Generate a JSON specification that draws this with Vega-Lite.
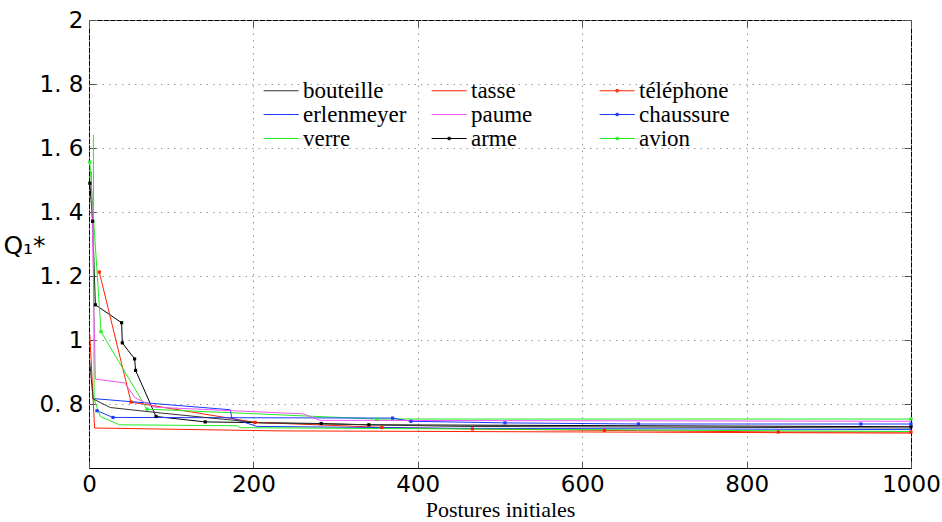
{
  "$schema": "https://vega.github.io/schema/vega-lite/v6.json",
  "width": 822,
  "height": 448,
  "autosize": "none",
  "padding": {"left": 89, "top": 20, "right": 31, "bottom": 54},
  "background": "white",
  "config": {
    "view": {"stroke": "black", "strokeWidth": 1},
    "axis": {
      "labelFont": "DejaVu Sans",
      "labelFontSize": 23,
      "labelColor": "black",
      "labelFlush": false,
      "domain": false,
      "tickColor": "#555555",
      "tickSize": -7,
      "tickWidth": 1,
      "gridColor": "#999999",
      "gridDash": [1.5, 5],
      "gridWidth": 1,
      "gridOpacity": 1
    }
  },
  "data": {
    "values": [
      {"s": "arme", "x": 1, "y": 1.49},
      {"s": "arme", "x": 4.4, "y": 1.371},
      {"s": "arme", "x": 7.7, "y": 1.11},
      {"s": "arme", "x": 39.7, "y": 1.054},
      {"s": "arme", "x": 40.5, "y": 0.991},
      {"s": "arme", "x": 55.5, "y": 0.941},
      {"s": "arme", "x": 56.7, "y": 0.905},
      {"s": "arme", "x": 81.5, "y": 0.761},
      {"s": "arme", "x": 141.4, "y": 0.744},
      {"s": "arme", "x": 282.5, "y": 0.739},
      {"s": "arme", "x": 340.5, "y": 0.735},
      {"s": "arme", "x": 1000, "y": 0.729},
      {"s": "téléphone", "x": 12.5, "y": 1.2125},
      {"s": "téléphone", "x": 51.1, "y": 0.806},
      {"s": "téléphone", "x": 202.2, "y": 0.7425},
      {"s": "téléphone", "x": 356.3, "y": 0.727},
      {"s": "téléphone", "x": 466.5, "y": 0.722},
      {"s": "téléphone", "x": 627, "y": 0.7175},
      {"s": "téléphone", "x": 838.6, "y": 0.7125},
      {"s": "téléphone", "x": 1000, "y": 0.7125},
      {"s": "avion", "x": 1, "y": 1.556},
      {"s": "avion", "x": 14.6, "y": 1.026},
      {"s": "avion", "x": 70.5, "y": 0.784},
      {"s": "avion", "x": 350, "y": 0.753},
      {"s": "avion", "x": 1000, "y": 0.753},
      {"s": "chaussure", "x": 9.7, "y": 0.779},
      {"s": "chaussure", "x": 29.2, "y": 0.758},
      {"s": "chaussure", "x": 369.3, "y": 0.756},
      {"s": "chaussure", "x": 391.6, "y": 0.746},
      {"s": "chaussure", "x": 506, "y": 0.741},
      {"s": "chaussure", "x": 668.4, "y": 0.7375},
      {"s": "chaussure", "x": 939, "y": 0.7375},
      {"s": "chaussure", "x": 1000, "y": 0.7375},
      {"s": "erlenmeyer", "x": 4.9, "y": 0.817},
      {"s": "erlenmeyer", "x": 171.8, "y": 0.782},
      {"s": "erlenmeyer", "x": 173.9, "y": 0.756},
      {"s": "erlenmeyer", "x": 204, "y": 0.730},
      {"s": "erlenmeyer", "x": 450, "y": 0.724},
      {"s": "erlenmeyer", "x": 1000, "y": 0.72},
      {"s": "verre", "x": 5.3, "y": 1.642},
      {"s": "verre", "x": 6.2, "y": 0.815},
      {"s": "verre", "x": 13.7, "y": 0.761},
      {"s": "verre", "x": 37.2, "y": 0.735},
      {"s": "verre", "x": 180, "y": 0.732},
      {"s": "verre", "x": 184, "y": 0.726},
      {"s": "verre", "x": 1000, "y": 0.714},
      {"s": "tasse", "x": 1, "y": 1.016},
      {"s": "tasse", "x": 6.8, "y": 0.725},
      {"s": "tasse", "x": 230, "y": 0.716},
      {"s": "tasse", "x": 450, "y": 0.714},
      {"s": "tasse", "x": 1000, "y": 0.709},
      {"s": "bouteille", "x": 1, "y": 0.93},
      {"s": "bouteille", "x": 4.9, "y": 0.816},
      {"s": "bouteille", "x": 25.9, "y": 0.789},
      {"s": "bouteille", "x": 86.7, "y": 0.772},
      {"s": "bouteille", "x": 208, "y": 0.741},
      {"s": "bouteille", "x": 451, "y": 0.73},
      {"s": "bouteille", "x": 1000, "y": 0.725},
      {"s": "paume", "x": 2.8, "y": 1.527},
      {"s": "paume", "x": 7.7, "y": 0.878},
      {"s": "paume", "x": 43.3, "y": 0.866},
      {"s": "paume", "x": 56.3, "y": 0.819},
      {"s": "paume", "x": 80, "y": 0.79},
      {"s": "paume", "x": 261, "y": 0.769},
      {"s": "paume", "x": 281, "y": 0.749},
      {"s": "paume", "x": 1000, "y": 0.746}
    ]
  },
  "resolve": {
    "scale": {"color": "independent", "shape": "independent"},
    "axis": {"x": "independent", "y": "independent"},
    "legend": {"color": "independent", "shape": "independent"}
  },
  "layer": [
    {
      "mark": {"type": "line", "strokeWidth": 1, "clip": true},
      "encoding": {
        "x": {
          "field": "x", "type": "quantitative",
          "scale": {"domain": [0, 1000], "nice": false, "zero": false},
          "axis": {
            "orient": "bottom",
            "values": [0, 200, 400, 600, 800, 1000],
            "format": "d",
            "grid": true,
            "labelPadding": 12,
            "title": "Postures initiales",
            "titleFont": "Liberation Serif",
            "titleFontSize": 22,
            "titleFontWeight": "normal",
            "titleColor": "black",
            "titlePadding": 3
          }
        },
        "y": {
          "field": "y", "type": "quantitative",
          "scale": {"domain": [0.6, 2], "nice": false, "zero": false},
          "axis": {
            "orient": "left",
            "values": [0.8, 1, 1.2, 1.4, 1.6, 1.8, 2],
            "grid": true,
            "labelPadding": 13,
            "labelExpr": "datum.value % 1 == 0 ? format(datum.value, 'd') : replace(format(datum.value, '.1f'), '.', '. ')",
            "title": "Q₁*",
            "titleFont": "DejaVu Sans",
            "titleFontSize": 25,
            "titleFontWeight": "normal",
            "titleColor": "black",
            "titleAngle": 0,
            "titleAlign": "center",
            "titleBaseline": "middle",
            "titleX": -65,
            "titleY": 225
          }
        },
        "detail": {"field": "s"},
        "color": {
          "field": "s", "type": "nominal",
          "scale": {
            "domain": ["bouteille", "erlenmeyer", "verre", "tasse", "paume", "arme", "téléphone", "chaussure", "avion"],
            "range": ["#333333", "#1a3aff", "#22ee22", "#ff2000", "#ee55ee", "#000000", "#ff2000", "#1a3aff", "#22ee22"]
          },
          "legend": null
        }
      }
    },
    {
      "transform": [{"filter": {"field": "s", "oneOf": ["arme", "téléphone", "chaussure", "avion"]}}],
      "mark": {"type": "point", "shape": "square", "filled": true, "size": 10, "opacity": 1, "clip": false},
      "encoding": {
        "x": {"field": "x", "type": "quantitative", "axis": null},
        "y": {"field": "y", "type": "quantitative", "axis": null},
        "color": {
          "field": "s", "type": "nominal",
          "scale": {
            "domain": ["bouteille", "erlenmeyer", "verre", "tasse", "paume", "arme", "téléphone", "chaussure", "avion"],
            "range": ["#333333", "#1a3aff", "#22ee22", "#ff2000", "#ee55ee", "#000000", "#ff2000", "#1a3aff", "#22ee22"]
          },
          "legend": null
        }
      }
    },
    {
      "mark": {"type": "point", "filled": false, "opacity": 0, "strokeWidth": 1},
      "encoding": {
        "x": {
          "field": "x", "type": "quantitative",
          "axis": {"orient": "top", "values": [0, 200, 400, 600, 800, 1000], "labels": false, "grid": false, "title": null}
        },
        "y": {
          "field": "y", "type": "quantitative",
          "axis": {"orient": "right", "values": [0.8, 1, 1.2, 1.4, 1.6, 1.8, 2], "labels": false, "grid": false, "title": null}
        },
        "color": {
          "field": "s", "type": "nominal",
          "scale": {
            "domain": ["bouteille", "erlenmeyer", "verre", "tasse", "paume", "arme", "téléphone", "chaussure", "avion"],
            "range": ["#333333", "#1a3aff", "#22ee22", "#ff2000", "#ee55ee", "#000000", "#ff2000", "#1a3aff", "#22ee22"]
          },
          "legend": {
            "orient": "none", "legendX": 169, "legendY": 59, "columns": 3, "title": null,
            "labelFont": "Liberation Serif", "labelFontSize": 23, "labelColor": "black",
            "symbolSize": 136, "symbolStrokeWidth": 1, "symbolOpacity": 1,
            "labelOffset": 22, "rowPadding": 0, "columnPadding": 19, "gridAlign": "all"
          }
        },
        "shape": {
          "field": "s", "type": "nominal",
          "scale": {
            "domain": ["bouteille", "erlenmeyer", "verre", "tasse", "paume", "arme", "téléphone", "chaussure", "avion"],
            "range": ["M-1,0H5", "M-1,0H5", "M-1,0H5", "M-1,0H5", "M-1,0H5", "M-1,0H5M1.8,-0.2H2.2V0.2H1.8Z", "M-1,0H5M1.8,-0.2H2.2V0.2H1.8Z", "M-1,0H5M1.8,-0.2H2.2V0.2H1.8Z", "M-1,0H5M1.8,-0.2H2.2V0.2H1.8Z"]
          },
          "legend": {
            "orient": "none", "legendX": 169, "legendY": 59, "columns": 3, "title": null,
            "labelFont": "Liberation Serif", "labelFontSize": 23, "labelColor": "black",
            "symbolSize": 136, "symbolStrokeWidth": 1, "symbolOpacity": 1,
            "labelOffset": 22, "rowPadding": 0, "columnPadding": 19, "gridAlign": "all"
          }
        }
      }
    }
  ]
}
